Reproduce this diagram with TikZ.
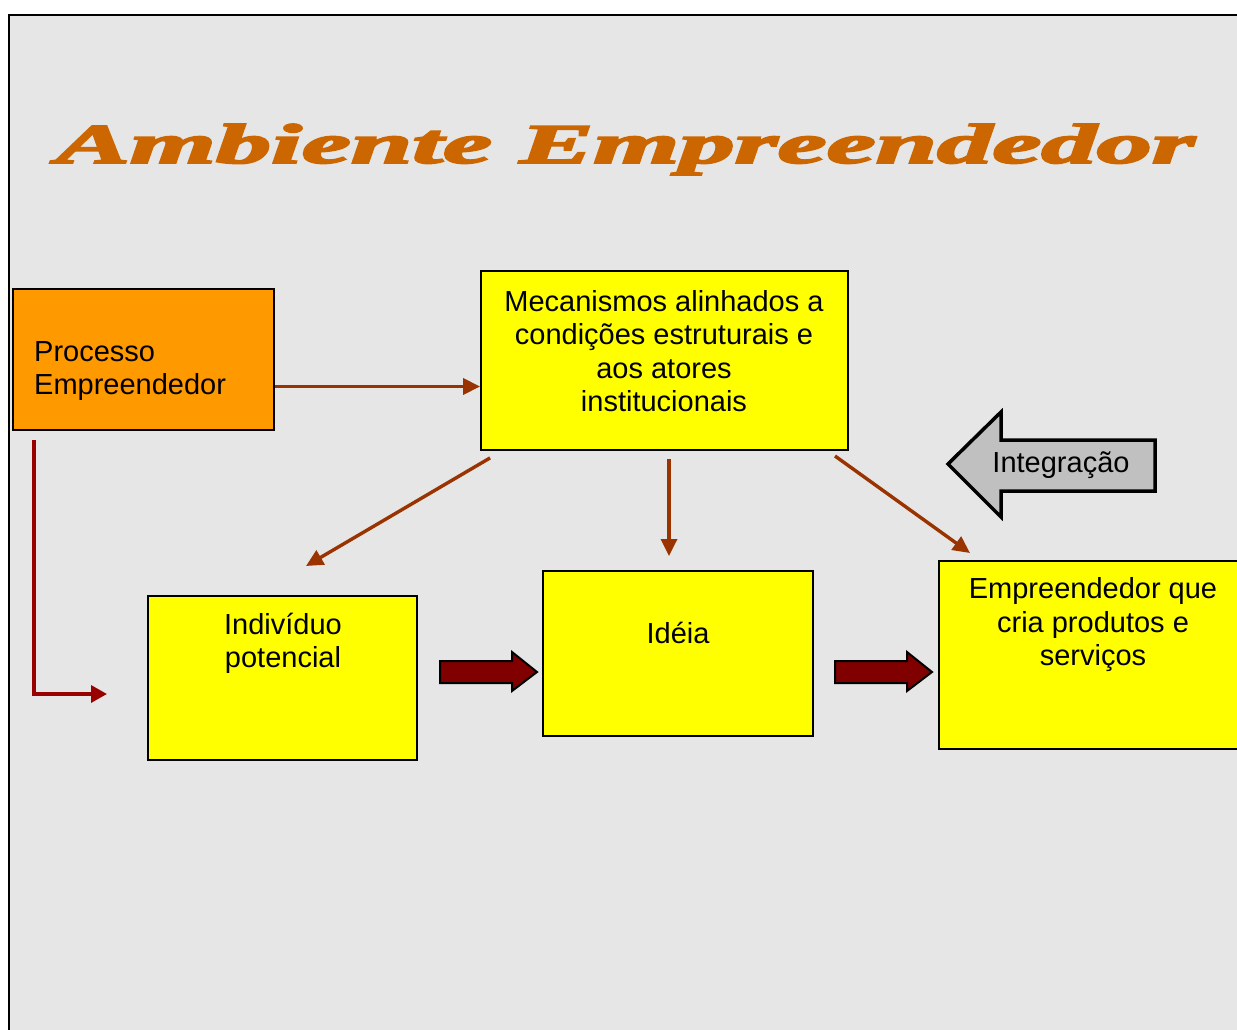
\documentclass[tikz,border=0pt]{standalone}
\usepackage{fontspec}
\setmainfont{Liberation Sans}
\newfontfamily\titlefont[FakeBold=3]{Liberation Serif Bold Italic}
\usetikzlibrary{arrows.meta,calc}
\definecolor{bggray}{HTML}{E6E6E6}
\definecolor{titleorange}{HTML}{CC6600}
\definecolor{boxorange}{HTML}{FF9900}
\definecolor{boxyellow}{HTML}{FFFF00}
\definecolor{blockred}{HTML}{800000}
\definecolor{arrowgray}{HTML}{C0C0C0}
\definecolor{connbrown}{HTML}{993300}
\definecolor{connred}{HTML}{990000}
\begin{document}
\begin{tikzpicture}[x=1pt,y=-1pt,
  box/.style={draw=black, line width=1.8pt, inner sep=0pt},
  lbl/.style={font=\fontsize{29}{33.5}\selectfont, align=center, inner sep=0pt},
  conn/.style={draw=connbrown, line width=3.4pt, -{Triangle[length=17pt,width=16pt]}},
  connL/.style={draw=connred, line width=3.4pt, -{Triangle[length=16pt,width=17pt]}},
  blockarrow/.style={draw=black, line width=2pt, fill=blockred, line join=miter},
  grayarrow/.style={draw=black, line width=3.5pt, fill=arrowgray, line join=miter}]
\useasboundingbox (0,0) rectangle (1237,1030);
\fill[white] (0,0) rectangle (1237,1030);
\fill[bggray] (9,15) rectangle (1240,1032);
\draw[line width=2pt] (9,1032) -- (9,15) -- (1240,15);

% title
\node[anchor=base west, inner sep=0pt, text=titleorange] (title) at (56,163)
  {\resizebox*{1138pt}{51pt}{\titlefont Ambiente Empreendedor}};

% boxes
\node[box, fill=boxorange, minimum width=261pt, minimum height=141pt] (proc) at (143.5,359.5) {};
\node[lbl, align=left, anchor=west] (proctxt) at (34,371) {Processo\\Empreendedor};

\node[box, fill=boxyellow, minimum width=367pt, minimum height=179pt] (mec) at (664.5,360.5) {};
\node[lbl] (mectxt) at (664,351) {Mecanismos alinhados a\\condições estruturais e\\aos atores\\institucionais};

\node[box, fill=boxyellow, minimum width=269pt, minimum height=164pt] (ind) at (282.5,678) {};
\node[lbl] (indtxt) at (283,643.5) {Indivíduo\\potencial};

\node[box, fill=boxyellow, minimum width=270pt, minimum height=165pt] (ide) at (678,653.5) {};
\node[lbl] (idetxt) at (678,633) {Idéia};

\node[box, fill=boxyellow, minimum width=308pt, minimum height=188pt] (emp) at (1093,655) {};
\node[lbl] (emptxt) at (1093,625) {Empreendedor que\\cria produtos e\\serviços};

% Integração arrow
\draw[grayarrow] (948,464) -- (1001,412) -- (1001,440) -- (1155,440) -- (1155,491) -- (1001,491) -- (1001,517) -- cycle;
\node[lbl] (integ) at (1061,465) {Integração};

% block arrows
\coordinate (b1) at (440,672);
\coordinate (b2) at (835,672);
\draw[blockarrow] ($(b1)+(0,-11)$) -- ++(72,0) -- ++(0,-9) -- ++(25,20) -- ++(-25,19) -- ++(0,-8) -- ++(-72,0) -- cycle;
\draw[blockarrow] ($(b2)+(0,-11)$) -- ++(72,0) -- ++(0,-9) -- ++(25,20) -- ++(-25,19) -- ++(0,-8) -- ++(-72,0) -- cycle;

% connectors
\draw[conn] ([yshift=-27pt]proc.east) -- ([yshift=-27pt]proc.east -| mec.west);

\coordinate (m1) at ([shift={(10,7)}]mec.south west);
\coordinate (i1) at (306,566);
\draw[conn] (m1) -- (i1);

\coordinate (m2) at (669,459);
\coordinate (d2) at (669,556);
\draw[conn] (m2) -- (d2);

\coordinate (m3) at (835,456);
\coordinate (e3) at (970,553);
\draw[conn] (m3) -- (e3);

\coordinate (p1) at (34,440);
\coordinate (p2) at (107,694);
\draw[connL] (p1) |- (p2);
\end{tikzpicture}
\end{document}
